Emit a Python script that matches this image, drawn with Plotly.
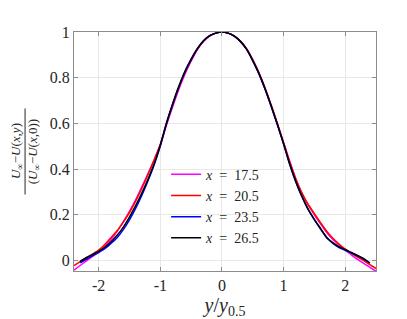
import plotly.graph_objects as go

# normalized cross-stream coordinate y/y0.5
eta_17 = [-2.4, -2.3, -2.2, -2.1, -2.0, -1.9, -1.8, -1.7, -1.6, -1.5, -1.4, -1.3, -1.2, -1.1, -1.0,
          -0.9, -0.8, -0.7, -0.6, -0.5, -0.4, -0.3, -0.2, -0.1, 0.0, 0.1, 0.2, 0.3, 0.4, 0.5,
          0.6, 0.7, 0.8, 0.9, 1.0, 1.1, 1.2, 1.3, 1.4, 1.5, 1.6, 1.7, 1.8, 1.9, 2.0, 2.1, 2.2,
          2.3, 2.4, 2.5]
val_17 = [-0.042, -0.022, -0.002, 0.018, 0.038, 0.062, 0.092, 0.128, 0.170, 0.215, 0.265, 0.322,
          0.380, 0.440, 0.505, 0.592, 0.672, 0.748, 0.815, 0.872, 0.922, 0.958, 0.982, 0.995, 1.0,
          0.995, 0.982, 0.959, 0.926, 0.877, 0.820, 0.752, 0.677, 0.597, 0.515, 0.432, 0.355,
          0.292, 0.243, 0.200, 0.160, 0.122, 0.092, 0.068, 0.045, 0.025, 0.005, -0.013, -0.030,
          -0.047]

eta_20 = eta_17
val_20 = [-0.022, -0.005, 0.012, 0.028, 0.045, 0.070, 0.100, 0.130, 0.168, 0.210, 0.260, 0.315,
          0.375, 0.440, 0.508, 0.598, 0.680, 0.756, 0.822, 0.877, 0.924, 0.960, 0.983, 0.995, 1.0,
          0.995, 0.983, 0.960, 0.927, 0.879, 0.822, 0.755, 0.680, 0.600, 0.517, 0.433, 0.357,
          0.295, 0.245, 0.205, 0.165, 0.128, 0.097, 0.072, 0.050, 0.032, 0.015, 0.000, -0.018,
          -0.035]

eta_23 = eta_17[1:-1]
val_23 = [-0.010, 0.005, 0.020, 0.035, 0.052, 0.075, 0.100, 0.135, 0.178, 0.228, 0.285, 0.348,
          0.418, 0.500, 0.598, 0.682, 0.758, 0.825, 0.879, 0.926, 0.961, 0.983, 0.995, 1.0,
          0.995, 0.982, 0.959, 0.924, 0.875, 0.818, 0.750, 0.674, 0.594, 0.510, 0.420, 0.343,
          0.278, 0.222, 0.178, 0.138, 0.102, 0.075, 0.057, 0.045, 0.033, 0.020, 0.006, -0.010]

eta_26 = eta_17[1:-1]
val_26 = [-0.004, 0.012, 0.026, 0.040, 0.058, 0.082, 0.110, 0.146, 0.190, 0.240, 0.295, 0.355,
          0.422, 0.505, 0.602, 0.686, 0.762, 0.828, 0.881, 0.927, 0.962, 0.984, 0.995, 1.0,
          0.995, 0.982, 0.959, 0.925, 0.875, 0.818, 0.752, 0.676, 0.596, 0.512, 0.422, 0.345,
          0.280, 0.225, 0.180, 0.140, 0.100, 0.078, 0.060, 0.048, 0.035, 0.022, 0.008, -0.012]

labels = ["17.5", "20.5", "23.5", "26.5"]
colors = ["#ff00ff", "#ff0000", "#0000ff", "#000000"]
series = [(eta_17, val_17), (eta_20, val_20), (eta_23, val_23), (eta_26, val_26)]

x_ticks = [-2, -1, 0, 1, 2]
x_tick_text = ["-2", "-1", "0", "1", "2"]
y_ticks = [0, 0.2, 0.4, 0.6, 0.8, 1]
y_tick_text = ["0", "0.2", "0.4", "0.6", "0.8", "1"]

SERIF = "Liberation Serif, Times New Roman, Times, serif"
TXT = "#262626"

fig = go.Figure()
for (xs, ys), lab, col in zip(series, labels, colors):
    fig.add_trace(go.Scatter(
        x=xs, y=ys, mode="lines", name="<i>x</i>\u2002=\u2002" + lab,
        line=dict(color=col, width=1.5, shape="spline", smoothing=0.6)))

axis_common = dict(showline=True, linecolor="#8c8c8c", linewidth=1, mirror="ticks",
                   ticks="inside", ticklen=4, tickcolor="#8c8c8c",
                   showgrid=True, gridcolor="#e8e8e8", gridwidth=1, zeroline=False,
                   tickfont=dict(family=SERIF, size=16, color=TXT))

fig.update_layout(
    width=407, height=319,
    margin=dict(l=66, r=39, t=24, b=56),
    paper_bgcolor="white", plot_bgcolor="white",
    font=dict(family=SERIF),
    showlegend=True,
    legend=dict(x=0.305, y=0.47, xanchor="left", yanchor="top",
                bgcolor="rgba(0,0,0,0)", borderwidth=0,
                font=dict(family=SERIF, size=14, color=TXT),
                tracegroupgap=0, itemwidth=30),
    xaxis=dict(range=[-2.4, 2.5], tickvals=x_ticks, ticktext=x_tick_text,
               title=dict(text="<i>y</i>/<i>y</i><sub>0.5</sub>",
                          font=dict(family=SERIF, size=20, color=TXT), standoff=4),
               **axis_common),
    yaxis=dict(range=[-0.046, 1.0], tickvals=y_ticks, ticktext=y_tick_text, **axis_common),
)

# y-axis label as a rotated fraction
fig.add_annotation(text="<i>U</i><sub>∞</sub>−<i>U</i>(<i>x,y</i>)", textangle=-90,
                   xref="paper", yref="paper", x=-0.190, y=0.5, xanchor="center",
                   yanchor="middle", showarrow=False,
                   font=dict(family=SERIF, size=13, color=TXT))
fig.add_annotation(text="(<i>U</i><sub>∞</sub>−<i>U</i>(<i>x</i>,0))", textangle=-90,
                   xref="paper", yref="paper", x=-0.133, y=0.5, xanchor="center",
                   yanchor="middle", showarrow=False,
                   font=dict(family=SERIF, size=13, color=TXT))
fig.add_shape(type="line", xref="paper", yref="paper", x0=-0.162, x1=-0.162,
              y0=0.32, y1=0.68, line=dict(color=TXT, width=1))

fig.write_html("out.html")
